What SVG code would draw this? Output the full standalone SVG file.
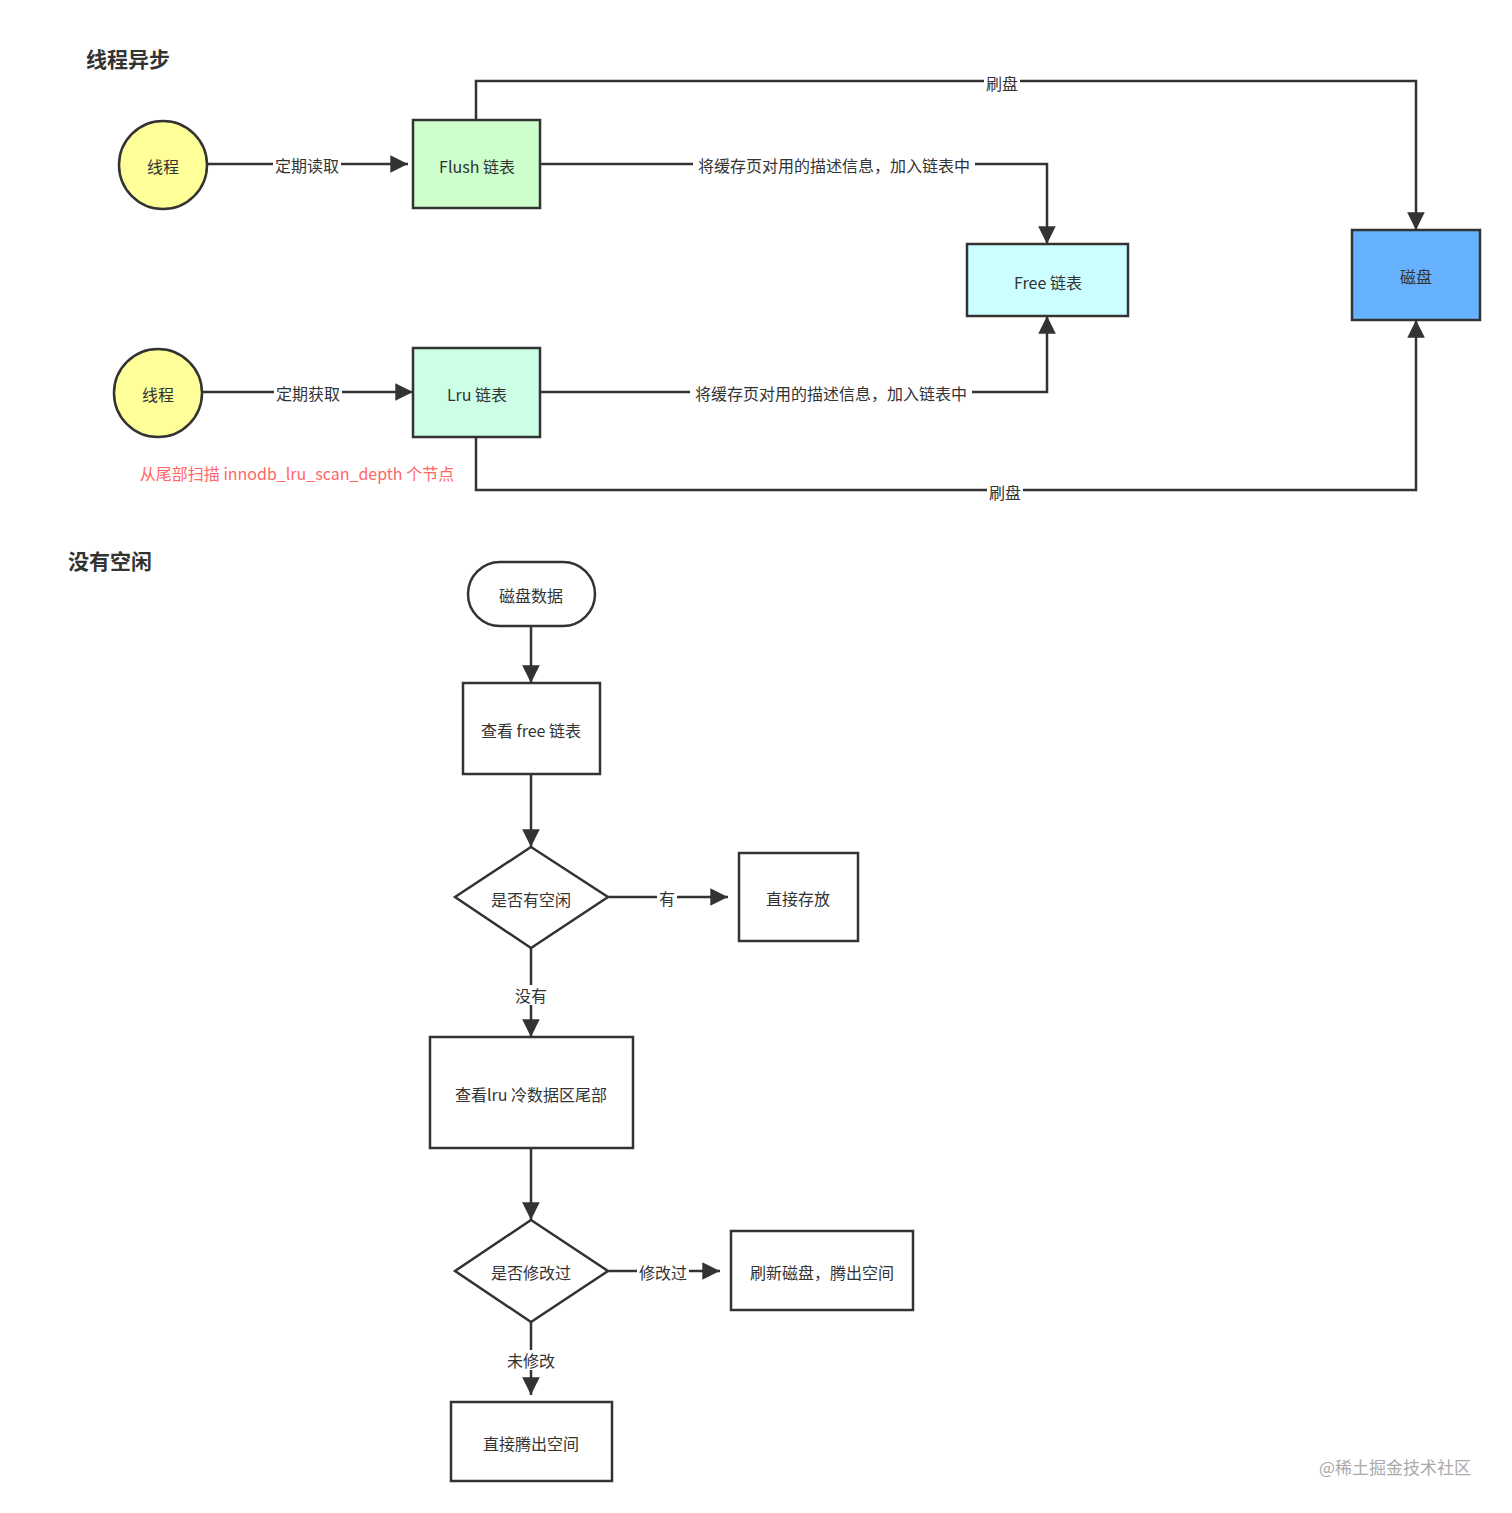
<svg xmlns="http://www.w3.org/2000/svg" width="1512" height="1513" viewBox="0 0 1512 1513">
<style>
text{font-family:"Noto Sans CJK SC","Noto Sans",sans-serif;fill:#333;font-size:16px;text-anchor:middle;dominant-baseline:central}
.t{font-size:21px;font-weight:bold;text-anchor:start}
.n{stroke:#333;stroke-width:2.5}
.c{fill:none;stroke:#333;stroke-width:2.5}
.lb{fill:#fff}
</style>
<defs><marker id="a" viewBox="0 0 10 10" refX="10" refY="5" markerWidth="8" markerHeight="8" markerUnits="userSpaceOnUse" orient="auto" style="overflow:visible"><path d="M0,0 L10,5 L0,10 Z" fill="#333" transform="scale(2.2) translate(-5.5,-2.7)"/></marker></defs>
<rect width="1512" height="1513" fill="#fff"/>
<text class="t" x="86" y="58">线程异步</text>
<text class="t" x="68" y="560">没有空闲</text>
<g id="connectors">
<path class="c" d="M207,164 H408" marker-end="url(#a)"/>
<path class="c" d="M476,120 V81 H1416 V230" marker-end="url(#a)"/>
<path class="c" d="M540,164 H1047 V244" marker-end="url(#a)"/>
<path class="c" d="M202,392 H413" marker-end="url(#a)"/>
<path class="c" d="M540,392 H1047 V316" marker-end="url(#a)"/>
<path class="c" d="M476,437 V490 H1416 V320" marker-end="url(#a)"/>
<path class="c" d="M531,626 V683" marker-end="url(#a)"/>
<path class="c" d="M531,774 V847" marker-end="url(#a)"/>
<path class="c" d="M608,897 H728" marker-end="url(#a)"/>
<path class="c" d="M531,948 V1037" marker-end="url(#a)"/>
<path class="c" d="M531,1148 V1220" marker-end="url(#a)"/>
<path class="c" d="M608,1271 H720" marker-end="url(#a)"/>
<path class="c" d="M531,1322 V1395" marker-end="url(#a)"/>
<rect class="lb" x="273" y="154" width="68" height="20"/><text x="307" y="165">定期读取</text>
<rect class="lb" x="984" y="72" width="36" height="20"/><text x="1002" y="83">刷盘</text>
<rect class="lb" x="693" y="154" width="282" height="20"/><text x="834" y="165">将缓存页对用的描述信息，加入链表中</text>
<rect class="lb" x="274" y="382" width="68" height="20"/><text x="308" y="393">定期获取</text>
<rect class="lb" x="690" y="382" width="282" height="20"/><text x="831" y="393">将缓存页对用的描述信息，加入链表中</text>
<rect class="lb" x="987" y="481" width="36" height="20"/><text x="1005" y="492">刷盘</text>
<rect class="lb" x="657" y="887" width="20" height="20"/><text x="667" y="898">有</text>
<rect class="lb" x="513" y="985" width="36" height="20"/><text x="531" y="995">没有</text>
<rect class="lb" x="637" y="1261" width="52" height="20"/><text x="663" y="1272">修改过</text>
<rect class="lb" x="505" y="1350" width="52" height="20"/><text x="531" y="1360">未修改</text>
</g>
<text x="297" y="473" style="fill:#ff6666">从尾部扫描 innodb_lru_scan_depth 个节点</text>
<g id="c1"><circle class="n" cx="163" cy="165" r="44" fill="#ffff99"/><text x="163" y="166">线程</text></g>
<g id="flush"><rect class="n" x="413" y="120" width="127" height="88" fill="#ccffcc"/><text x="477" y="166">Flush 链表</text></g>
<g id="free"><rect class="n" x="967" y="244" width="161" height="72" fill="#ccffff"/><text x="1048" y="282">Free 链表</text></g>
<g id="disk"><rect class="n" x="1352" y="230" width="128" height="90" fill="#66b2ff"/><text x="1416" y="276">磁盘</text></g>
<g id="c2"><circle class="n" cx="158" cy="393" r="44" fill="#ffff99"/><text x="158" y="394">线程</text></g>
<g id="lru"><rect class="n" x="413" y="348" width="127" height="89" fill="#ccffe6"/><text x="477" y="394">Lru 链表</text></g>
<g id="start"><rect class="n" x="468" y="562" width="127" height="64" rx="32" fill="#fff"/><text x="531" y="595">磁盘数据</text></g>
<g id="b1"><rect class="n" x="463" y="683" width="137" height="91" fill="#fff"/><text x="531" y="730">查看 free 链表</text></g>
<g id="d1"><path class="n" d="M531,847 L608,897 L531,948 L455,897 Z" fill="#fff"/><text x="531" y="899">是否有空闲</text></g>
<g id="b2"><rect class="n" x="739" y="853" width="119" height="88" fill="#fff"/><text x="798" y="898">直接存放</text></g>
<g id="b3"><rect class="n" x="430" y="1037" width="203" height="111" fill="#fff"/><text x="531" y="1094">查看lru 冷数据区尾部</text></g>
<g id="d2"><path class="n" d="M531,1220 L608,1271 L531,1322 L455,1271 Z" fill="#fff"/><text x="531" y="1272">是否修改过</text></g>
<g id="b4"><rect class="n" x="731" y="1231" width="182" height="79" fill="#fff"/><text x="822" y="1272">刷新磁盘，腾出空间</text></g>
<g id="b5"><rect class="n" x="451" y="1402" width="161" height="79" fill="#fff"/><text x="531" y="1443">直接腾出空间</text></g>
<text x="1395" y="1466" style="fill:#aaa;font-size:17px">@稀土掘金技术社区</text>
</svg>
